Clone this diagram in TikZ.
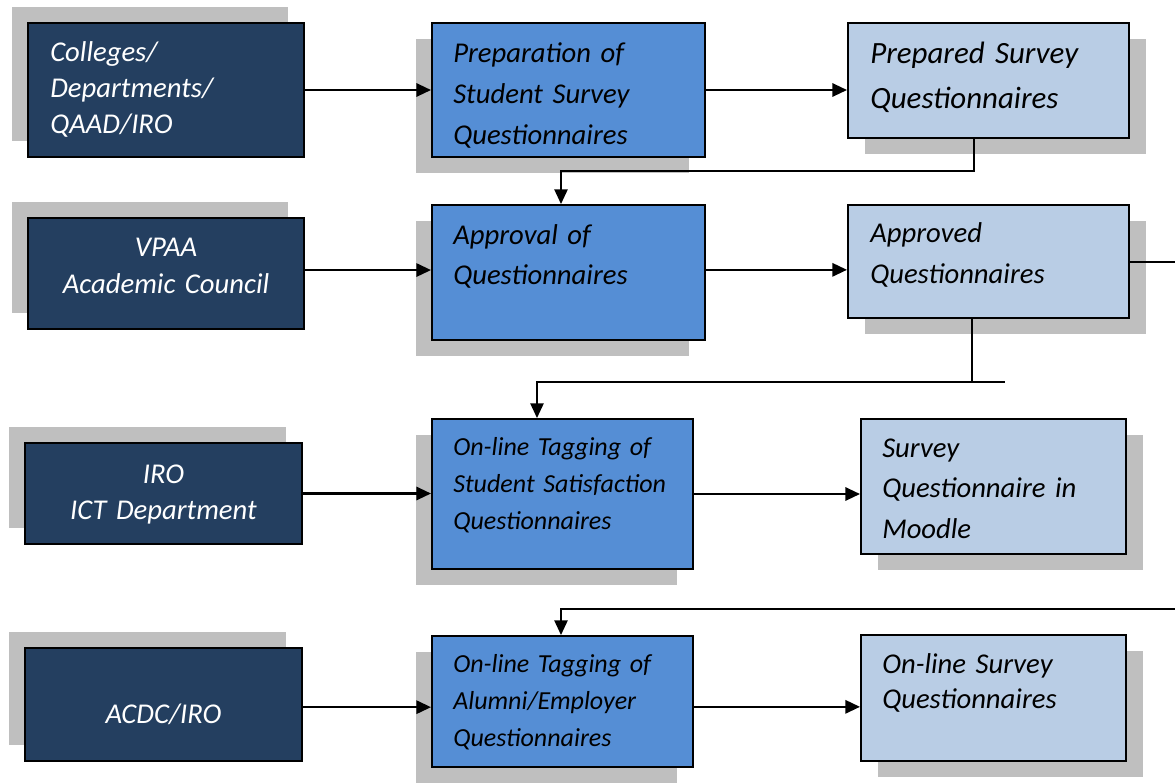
\documentclass[tikz,border=0pt]{standalone}
\usepackage{fontspec}
\setmainfont{Carlito}
\usetikzlibrary{arrows.meta,shadows}

\definecolor{navy}{HTML}{243F60}
\definecolor{midblue}{HTML}{558ED5}
\definecolor{paleblue}{HTML}{B9CDE5}
\definecolor{shade}{HTML}{BFBFBF}

% box from corner (x1,y1) to (x2,y2), in pixel-like units
\newcommand{\flowbox}[6]{%
  \node[#6, minimum width={(#4-#2)*0.75pt}, minimum height={(#5-#3)*0.75pt}]
    (#1) at ({(#2+#4)/2},{(#3+#5)/2}) {};}

\tikzset{
  box/.style={draw=black, line width=1.5pt, rectangle, inner sep=0pt},
  leftbox/.style={box, fill=navy,
    general shadow={fill=shade, shadow xshift=-12pt, shadow yshift=12pt}},
  midbox/.style={box, fill=midblue,
    general shadow={fill=shade, shadow xshift=-12pt, shadow yshift=-12pt}},
  rightbox/.style={box, fill=paleblue,
    general shadow={fill=shade, shadow xshift=12.5pt, shadow yshift=-12pt}},
  txt/.style={anchor=base west, inner sep=0pt, align=left, text width=190pt},
  ctxt/.style={anchor=base, inner sep=0pt, align=center, text width=200pt, text=white},
  arr/.style={line width=1.6pt, -{Triangle[length=11pt,width=10pt]}},
  conn/.style={line width=1.1pt},
  darr/.style={conn, -{Triangle[length=11pt,width=10pt]}},
}

\begin{document}
\begin{tikzpicture}[x=0.75pt, y=-0.75pt]
\useasboundingbox (0,0) rectangle (1175,783);

% source units (left column)
\flowbox{L1}{28}{23}{304}{157}{leftbox}
\flowbox{L2}{28}{218}{304}{329}{leftbox}
\flowbox{L3}{25}{443}{302}{544}{leftbox}
\flowbox{L4}{25}{648}{302}{761}{leftbox}

% process steps (middle column)
\flowbox{M1}{432}{23}{705}{157}{midbox}
\flowbox{M2}{432}{205}{705}{340}{midbox}
\flowbox{M3}{432}{419}{693}{569}{midbox}
\flowbox{M4}{432}{636}{693}{767}{midbox}

% outputs (right column)
\flowbox{R1}{848}{23}{1129}{138}{rightbox}
\flowbox{R2}{848}{205}{1129}{318}{rightbox}
\flowbox{R3}{861}{419}{1126}{554}{rightbox}
\flowbox{R4}{861}{635}{1126}{761}{rightbox}

% labels
\node[txt, text=white, font={\fontsize{21.5}{27}\selectfont\itshape}] (tL1) at (50,61)
  {Colleges/\\Departments/\\QAAD/IRO};
\node[ctxt, font={\fontsize{21.5}{27.75}\selectfont\itshape}] (tL2) at (166,256)
  {VPAA\\Academic Council};
\node[ctxt, font={\fontsize{21.5}{27}\selectfont\itshape}] (tL3) at (163.5,483)
  {IRO\\ICT Department};
\node[ctxt, font={\fontsize{21.5}{27}\selectfont\itshape}] (tL4) at (163.5,723)
  {ACDC/IRO};

\node[txt, font={\fontsize{21.5}{30.75}\selectfont\itshape}] (tM1) at (453,62)
  {Preparation of\\Student Survey\\Questionnaires};
\node[txt, font={\fontsize{21.5}{30}\selectfont\itshape}] (tM2) at (453,244)
  {Approval of\\Questionnaires};
\node[txt, font={\fontsize{19.5}{28.1}\selectfont\itshape}] (tM3) at (453,455)
  {On-line Tagging of\\Student Satisfaction\\Questionnaires};
\node[txt, font={\fontsize{19.5}{28.1}\selectfont\itshape}] (tM4) at (453,672)
  {On-line Tagging of\\Alumni/Employer\\Questionnaires};

\node[txt, font={\fontsize{23.2}{33.75}\selectfont\itshape}] (tR1) at (870,63)
  {Prepared Survey\\Questionnaires};
\node[txt, font={\fontsize{21.5}{30.75}\selectfont\itshape}] (tR2) at (870,242)
  {Approved\\Questionnaires};
\node[txt, font={\fontsize{21.5}{30.4}\selectfont\itshape}] (tR3) at (882,457)
  {Survey\\Questionnaire in\\Moodle};
\node[txt, font={\fontsize{21.5}{26.25}\selectfont\itshape}] (tR4) at (882,673)
  {On-line Survey\\Questionnaires};

% row arrows
\draw[arr] (L1.east) -- (L1.east -| M1.west);
\draw[arr] (M1.east) -- (M1.east -| R1.west);
\draw[arr] ([yshift=2.6pt]L2.east) -- ([yshift=2.6pt]L2.east -| M2.west);
\draw[arr] ([yshift=2pt]M2.east) -- ([yshift=2pt]M2.east -| R2.west);
\draw[arr] (L3.east) -- (L3.east -| M3.west);
\draw[arr] (M3.east) -- (M3.east -| R3.west);
\draw[arr] ([yshift=-2pt]L4.east) -- ([yshift=-2pt]L4.east -| M4.west);
\draw[arr] ([yshift=-4pt]M4.east) -- ([yshift=-4pt]M4.east -| R4.west);

% links between rows
\coordinate (j1) at (974,171);
\coordinate (d1) at (561,205);
\draw[darr] (j1 |- R1.south) -- (j1) -| (d1 |- M2.north);

\coordinate (j2) at (972,382);
\coordinate (d2) at (537,419);
\coordinate (s2) at (1005,382);
\draw[darr] (j2 |- R2.south) -- (j2) -| (d2 |- M3.north);
\draw[conn] (j2) -- (s2);

\coordinate (e2) at (1175,262);
\draw[conn] (R2.east |- e2) -- (e2);

\coordinate (e3) at (1175,609);
\coordinate (d3) at (561,636);
\draw[darr] (e3) -| (d3 |- M4.north);

\end{tikzpicture}
\end{document}
